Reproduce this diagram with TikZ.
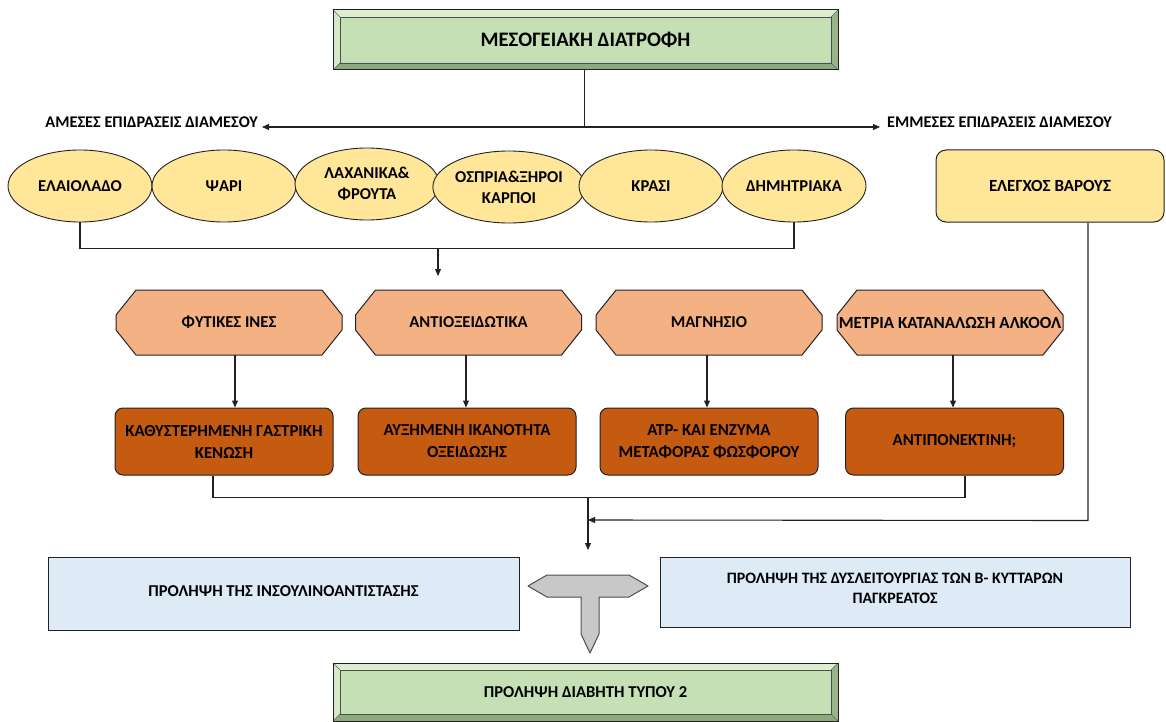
\documentclass[tikz,border=0pt]{standalone}
\usepackage{fontspec}
\setmainfont{Carlito}
\usetikzlibrary{arrows.meta,calc,shapes.geometric}
\pgfdeclarelayer{bg}
\pgfsetlayers{bg,main}

\definecolor{greenface}{HTML}{C5E0B4}
\definecolor{greenlight}{HTML}{DCEDD0}
\definecolor{greendark}{HTML}{8FA97F}
\definecolor{yel}{HTML}{FFE699}
\definecolor{peach}{HTML}{F4B183}
\definecolor{rust}{HTML}{C55A11}
\definecolor{paleblue}{HTML}{DEEBF7}
\definecolor{tgray}{HTML}{C8C8C8}
\definecolor{linec}{HTML}{222222}

% bevelled frame around a green title node
\newcommand\greenbevel[1]{%
  \fill[greenlight] (#1.north west) -- (#1.north east) -- ($(#1.north east)+(-7,7)$) -- ($(#1.north west)+(7,7)$) -- cycle;
  \fill[greenlight!70!greenface] (#1.north west) -- ($(#1.north west)+(7,7)$) -- ($(#1.south west)+(7,-7)$) -- (#1.south west) -- cycle;
  \fill[greendark] (#1.south west) -- ($(#1.south west)+(7,-7)$) -- ($(#1.south east)+(-7,-7)$) -- (#1.south east) -- cycle;
  \fill[greendark!80!greenface] (#1.north east) -- (#1.south east) -- ($(#1.south east)+(-7,-7)$) -- ($(#1.north east)+(-7,7)$) -- cycle;
  \draw[linec!70, line width=0.5pt] (#1.north west) -- ++(7,7) (#1.north east) -- ++(-7,7)
        (#1.south west) -- ++(7,-7) (#1.south east) -- ++(-7,-7);
  \draw[linec!80, line width=0.6pt] ($(#1.north west)+(7,7)$) rectangle ($(#1.south east)+(-7,-7)$);
  \draw[linec, line width=1pt] (#1.north west) rectangle (#1.south east);
}

% octagonal outline behind a node
\newcommand\octframe[1]{%
  \begin{pgfonlayer}{bg}
  \filldraw[fill=peach, draw=linec, line width=1pt]
    ($(#1.north west)+(20,0)$) -- ($(#1.north east)+(-20,0)$) -- ($(#1.north east)+(0,25)$) --
    ($(#1.south east)+(0,-25)$) -- ($(#1.south east)+(-20,0)$) -- ($(#1.south west)+(20,0)$) --
    ($(#1.south west)+(0,-25)$) -- ($(#1.north west)+(0,25)$) -- cycle;
  \end{pgfonlayer}
}

\begin{document}
\begin{tikzpicture}[x=1pt,y=-1pt,
  greenbox/.style={rectangle, minimum width=505pt, minimum height=60pt, inner sep=0pt, outer sep=0pt,
                   fill=greenface},
  oval/.style={ellipse, draw=linec, line width=0.9pt, fill=yel, minimum width=144pt, minimum height=72pt,
               inner sep=0pt, align=center, font=\fontsize{16.6}{21}\selectfont\bfseries},
  weightbox/.style={rectangle, rounded corners=10pt, draw=linec, line width=1pt, fill=yel,
               minimum width=228pt, minimum height=72pt, align=center, font=\fontsize{17}{21}\selectfont\bfseries},
  octbox/.style={rectangle, minimum width=226pt, minimum height=65pt, inner sep=0pt, outer sep=0pt,
               align=center, font=\fontsize{16.6}{21}\selectfont\bfseries},
  rustbox/.style={rectangle, rounded corners=8pt, draw=linec, line width=1pt, fill=rust,
               minimum width=218pt, minimum height=67pt, align=center, font=\fontsize{16.8}{22}\selectfont\bfseries},
  bluebox/.style={rectangle, draw=linec, line width=1pt, fill=paleblue, minimum width=471pt,
               minimum height=73pt, align=center},
  lbl/.style={inner sep=0pt, font=\fontsize{16.3}{19}\selectfont\bfseries},
  wire/.style={draw=linec, line width=1.1pt},
  arr/.style={wire, -{Triangle[length=7pt,width=6pt]}}
]
\useasboundingbox (0,0) rectangle (1166,722);

% title
\node[greenbox] (title) at (585.5,40) {};
\greenbevel{title}
\node[font=\fontsize{20.6}{24}\selectfont\bfseries] (titletext) at (title.center) {ΜΕΣΟΓΕΙΑΚΗ ΔΙΑΤΡΟΦΗ};

% direct / indirect effects
\node[lbl, anchor=east] (direct) at (258,122) {ΑΜΕΣΕΣ ΕΠΙΔΡΑΣΕΙΣ ΔΙΑΜΕΣΟΥ};
\node[lbl, anchor=west] (indirect) at (887,122) {ΕΜΜΕΣΕΣ ΕΠΙΔΡΑΣΕΙΣ ΔΙΑΜΕΣΟΥ};
\coordinate (split) at (584.5,127);
\coordinate (ltip) at (262,127);
\coordinate (rtip) at (880,127);
\draw[wire] (title.south -| split) -- (split);
\draw[arr] (split) -- (ltip);
\draw[arr] (split) -- (rtip);

% foods
\node[oval] (e1) at (80,186) {ΕΛΑΙΟΛΑΔΟ};
\node[oval] (e2) at (224,186) {ΨΑΡΙ};
\node[oval] (e3) at (367,184) {ΛΑΧΑΝΙΚΑ\&\\ΦΡΟΥΤΑ};
\node[oval] (e4) at (509,187) {ΟΣΠΡΙΑ\&ΞΗΡΟΙ\\ΚΑΡΠΟΙ};
\node[oval] (e5) at (651,186) {ΚΡΑΣΙ};
\node[oval] (e6) at (794,186) {ΔΗΜΗΤΡΙΑΚΑ};
\node[weightbox] (weight) at (1050,186) {ΕΛΕΓΧΟΣ ΒΑΡΟΥΣ};

\draw[wire] (e1.south) -- ++(0,26) -| (e6.south);
\coordinate (foodjoin) at (438,248);
\coordinate (foodtip) at (438,276);
\draw[arr] (foodjoin) -- (foodtip);

% nutrients
\node[octbox] (o1) at (229,322.5) {ΦΥΤΙΚΕΣ ΙΝΕΣ};
\node[octbox] (o2) at (468.5,322.5) {ΑΝΤΙΟΞΕΙΔΩΤΙΚΑ};
\node[octbox] (o3) at (709,322.5) {ΜΑΓΝΗΣΙΟ};
\node[octbox, font=\fontsize{17}{21}\selectfont\bfseries] (o4) at (950,322.5) {ΜΕΤΡΙΑ ΚΑΤΑΝΑΛΩΣΗ ΑΛΚΟΟΛ};
\octframe{o1}\octframe{o2}\octframe{o3}\octframe{o4}

% mechanisms
\node[rustbox] (b1) at (224,441.5) {ΚΑΘΥΣΤΕΡΗΜΕΝΗ ΓΑΣΤΡΙΚΗ\\ΚΕΝΩΣΗ};
\node[rustbox] (b2) at (467,441.5) {ΑΥΞΗΜΕΝΗ ΙΚΑΝΟΤΗΤΑ\\ΟΞΕΙΔΩΣΗΣ};
\node[rustbox] (b3) at (709,441.5) {ΑΤΡ- ΚΑΙ ΕΝΖΥΜΑ\\ΜΕΤΑΦΟΡΑΣ ΦΩΣΦΟΡΟΥ};
\node[rustbox] (b4) at (954.5,441.5) {ΑΝΤΙΠΟΝΕΚΤΙΝΗ;};

\draw[arr] ($(o1.south)+(6,0)$) coordinate (a1) -- (a1 |- b1.north);
\draw[arr] ($(o2.south)+(-2.5,0)$) coordinate (a2) -- (a2 |- b2.north);
\draw[arr] ($(o3.south)+(-2,0)$) coordinate (a3) -- (a3 |- b3.north);
\draw[arr] ($(o4.south)+(3,0)$) coordinate (a4) -- (a4 |- b4.north);

\draw[wire] ($(b1.south)+(-11,0)$) -- ++(0,22) -| ($(b4.south)+(10.5,0)$);
\coordinate (mechjoin) at (588,497);
\coordinate (mechtip) at (588,550);
\draw[arr] (mechjoin) -- (mechtip);
\draw[arr] ($(weight.south)+(38,0)$) -- ++(0,298) -- (588,520);

% outcomes
\node[bluebox, font=\fontsize{16.6}{20}\selectfont\bfseries, text depth=4pt] (insulin) at (283.5,593.5)
  {ΠΡΟΛΗΨΗ ΤΗΣ ΙΝΣΟΥΛΙΝΟΑΝΤΙΣΤΑΣΗΣ};
\node[bluebox, minimum width=470pt, minimum height=70pt, font=\fontsize{15.9}{20}\selectfont\bfseries,
      text depth=7pt] (beta) at (895,592)
  {ΠΡΟΛΗΨΗ ΤΗΣ ΔΥΣΛΕΙΤΟΥΡΓΙΑΣ ΤΩΝ Β- ΚΥΤΤΑΡΩΝ\\ΠΑΓΚΡΕΑΤΟΣ};

% T-shaped block arrow
\filldraw[fill=tgray, draw=linec!80, line width=1pt, line join=round]
  (528,586) -- (547,575) -- (629,575) -- (648,586) -- (629,597) -- (599,597) -- (599,634)
  -- (590,653) -- (581,634) -- (581,597) -- (547,597) -- cycle;

% final outcome
\node[greenbox, minimum height=58pt] (diabetes) at (585.5,692) {};
\greenbevel{diabetes}
\node[font=\fontsize{16.6}{20}\selectfont\bfseries] (diabtext) at (diabetes.center) {ΠΡΟΛΗΨΗ ΔΙΑΒΗΤΗ ΤΥΠΟΥ 2};
\end{tikzpicture}
\end{document}
